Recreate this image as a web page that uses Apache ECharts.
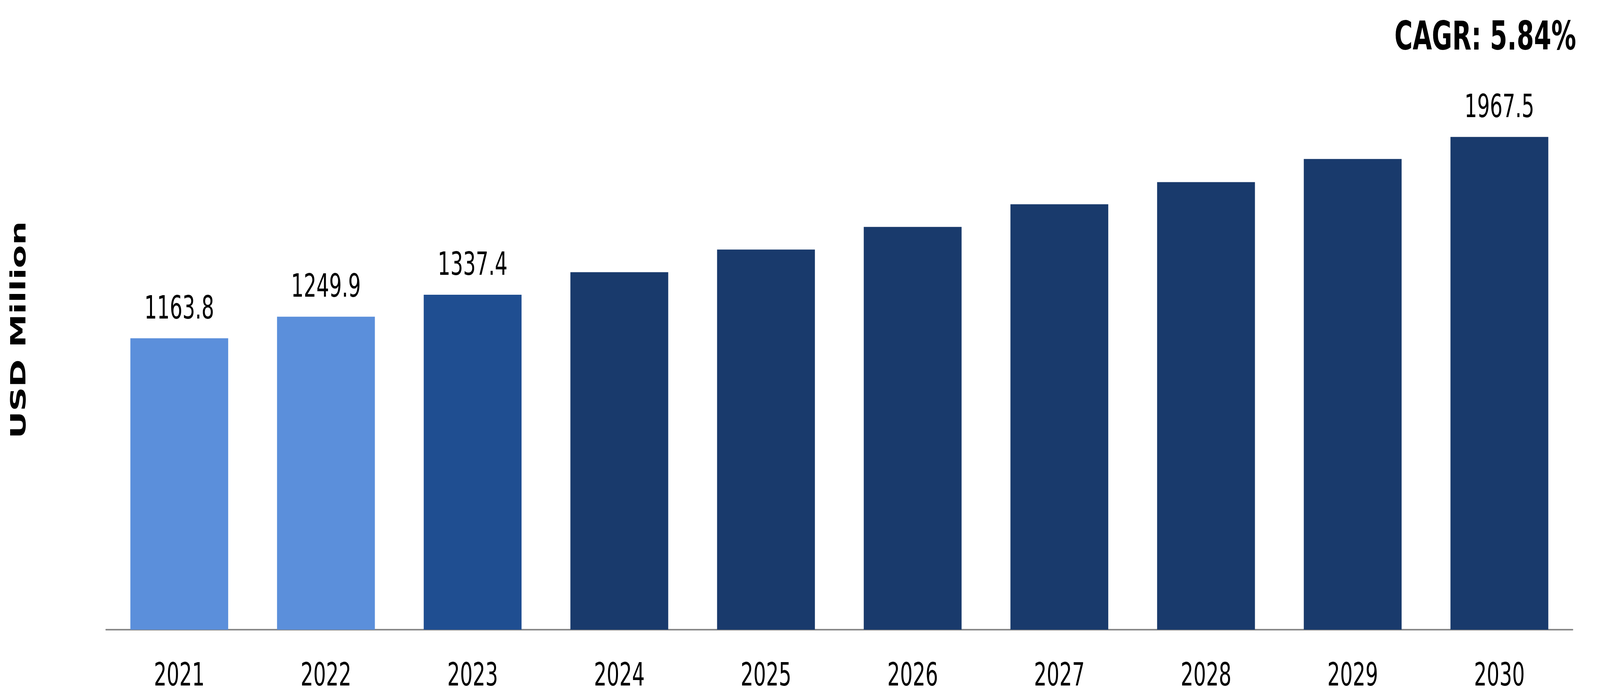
<!DOCTYPE html>
<html>
<head>
<meta charset="utf-8">
<script src="https://cdn.jsdelivr.net/npm/echarts@6/dist/echarts.min.js"></script>
<style>
html,body{margin:0;padding:0;background:#fff;overflow:hidden;}
#chart{width:6570px;height:1788px;transform-origin:0 0;}
</style>
</head>
<body>
<div id="chart"></div>
<script>
const years = ['2021','2022','2023','2024','2025','2026','2027','2028','2029','2030'];
const values = [1163.8, 1249.9, 1337.4, 1427.5, 1517.8, 1608.2, 1698.6, 1787.4, 1879.4, 1967.5];
const labelledYears = ['2021','2022','2023','2030'];
const barColors = ['#5B8FDB','#5B8FDB','#1F4E91','#193A6C','#193A6C','#193A6C','#193A6C','#193A6C','#193A6C','#193A6C'];
const yAxisTitle = 'USD Million';
const cagrText = 'CAGR: 5.84%';

// The page is designed at 6570x1788; if the browser viewport is smaller, fit it.
const DESIGN_W = 6570, DESIGN_H = 1788;
const dom = document.getElementById('chart');
const sx = Math.min(1, window.innerWidth / DESIGN_W);
const sy = Math.min(1, window.innerHeight / DESIGN_H);
dom.style.transform = 'scale(' + sx + ',' + sy + ')';

const chart = echarts.init(dom, null, { renderer: 'svg', width: DESIGN_W, height: DESIGN_H });
const FONT = '"DejaVu Sans", Verdana, sans-serif';
chart.setOption({
  animation: false,
  backgroundColor: '#ffffff',
  grid: { left: 435, right: 112, top: 330, bottom: 175 },
  xAxis: {
    type: 'category',
    data: years,
    axisLine: { show: true, lineStyle: { color: '#898989', width: 4 } },
    axisTick: { show: false },
    axisLabel: { color: '#000', fontSize: 82, fontFamily: FONT, margin: 74 }
  },
  yAxis: {
    type: 'value',
    min: 0,
    max: 2000,
    show: false,
    splitLine: { show: false }
  },
  series: [{
    type: 'bar',
    barCategoryGap: '33.3%',
    data: values.map((v, i) => ({
      value: v,
      itemStyle: { color: barColors[i] },
      label: {
        show: labelledYears.indexOf(years[i]) >= 0,
        position: 'top',
        distance: 38,
        color: '#000',
        fontSize: 82,
        fontFamily: FONT,
        formatter: (p) => p.value.toFixed(1)
      }
    }))
  }],
  graphic: [
    {
      type: 'text',
      x: 74, y: 845,
      rotation: Math.PI / 2,
      style: {
        text: yAxisTitle,
        fill: '#000',
        font: 'bold 86px ' + FONT,
        align: 'center', verticalAlign: 'middle',
        textAlign: 'center', textVerticalAlign: 'middle'
      }
    },
    {
      type: 'text',
      x: 6472, y: 92,
      style: {
        text: cagrText,
        fill: '#000',
        font: 'bold 102px ' + FONT,
        align: 'right', verticalAlign: 'middle',
        textAlign: 'right', textVerticalAlign: 'middle'
      }
    }
  ]
});
</script>
</body>
</html>
